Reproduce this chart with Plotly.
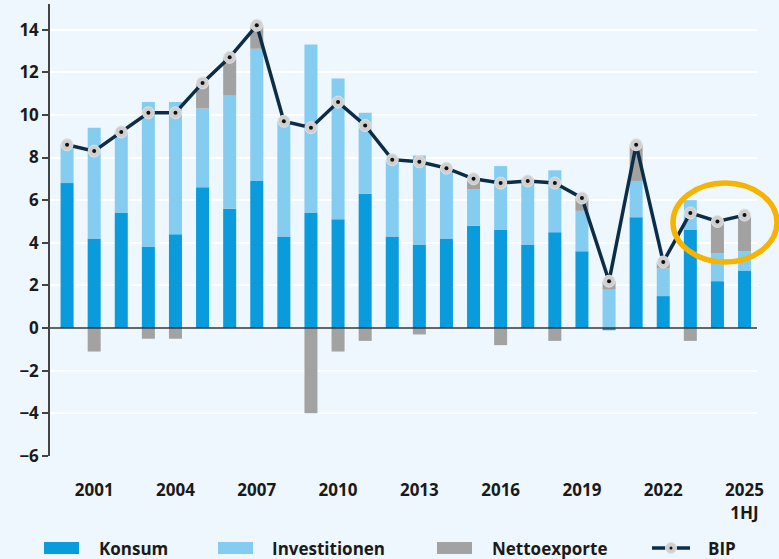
import plotly.graph_objects as go

years = list(range(2000, 2026))
konsum = [6.8, 4.2, 5.4, 3.8, 4.4, 6.6, 5.6, 6.9, 4.3, 5.4, 5.1, 6.3, 4.3, 3.9, 4.2, 4.8, 4.6, 3.9, 4.5, 3.6, -0.1, 5.2, 1.5, 4.6, 2.2, 2.7]
investitionen = [1.8, 5.2, 3.8, 6.8, 6.2, 3.7, 5.3, 6.2, 5.4, 7.9, 6.6, 3.8, 3.6, 4.2, 3.3, 1.7, 3.0, 3.0, 2.9, 1.9, 1.8, 1.7, 1.3, 1.4, 1.3, 0.9]
nettoexporte = [0.0, -1.1, 0.0, -0.5, -0.5, 1.2, 1.8, 1.1, 0.0, -4.0, -1.1, -0.6, 0.0, -0.3, 0.0, 0.5, -0.8, 0.0, -0.6, 0.6, 0.4, 1.7, 0.3, -0.6, 1.5, 1.7]
bip = [8.6, 8.3, 9.2, 10.1, 10.1, 11.5, 12.7, 14.2, 9.7, 9.4, 10.6, 9.5, 7.9, 7.8, 7.5, 7.0, 6.8, 6.9, 6.8, 6.1, 2.2, 8.6, 3.1, 5.4, 5.0, 5.3]
tick_years = [2001, 2004, 2007, 2010, 2013, 2016, 2019, 2022, 2025]
tick_labels = ["2001", "2004", "2007", "2010", "2013", "2016", "2019", "2022", "2025<br>1HJ"]
y_ticks = [-6, -4, -2, 0, 2, 4, 6, 8, 10, 12, 14]

C_KONSUM = "#0a9bdc"
C_INV = "#84cdf1"
C_NET = "#a2a2a2"
C_BIP = "#0c2d48"
C_MARK = "#cfcfcf"
BG = "#eef7fd"
FONT = "Open Sans"
TXT = "#1a1a1a"
FS = 17
WT = "bold"

fig = go.Figure()
bw = 0.48
fig.add_trace(go.Bar(x=years, y=konsum, name="Konsum", marker=dict(color=C_KONSUM, line_width=0), width=bw))
fig.add_trace(go.Bar(x=years, y=investitionen, name="Investitionen", marker=dict(color=C_INV, line_width=0), width=bw))
fig.add_trace(go.Bar(x=years, y=nettoexporte, name="Nettoexporte", marker=dict(color=C_NET, line_width=0), width=bw))
fig.add_trace(go.Scatter(x=years, y=bip, name="BIP", mode="lines+markers",
                         line=dict(color=C_BIP, width=3.5),
                         marker=dict(size=12, color=C_MARK, line=dict(color="#e2e2e2", width=1))))
fig.add_trace(go.Scatter(x=years, y=bip, mode="markers", showlegend=False, hoverinfo="skip",
                         marker=dict(size=4, color="#111111")))

# plot area geometry (pixels) for paper-referenced decorations
W, H = 779, 559
ml, mr, mt, mb = 50, 22, 4, 103
pw, ph = W - ml - mr, H - mt - mb

def px(x):
    return (x - ml) / pw

def py(y):
    return (H - mb - y) / ph

shapes = []
# zero line
shapes.append(dict(type="line", xref="paper", yref="y", x0=0, x1=1, y0=0, y1=0,
                   line=dict(color="#333333", width=1.5), layer="above"))
# highlight ellipse
shapes.append(dict(type="circle", xref="paper", yref="paper",
                   x0=px(673), x1=px(777), y0=py(262), y1=py(183),
                   line=dict(color="#f6b400", width=5.5), layer="above"))

# custom legend
ly = 548
legend_items = [("Konsum", C_KONSUM, 44, 97), ("Investitionen", C_INV, 218, 270), ("Nettoexporte", C_NET, 437, 490)]
annotations = []
for name, col, sx, tx in legend_items:
    shapes.append(dict(type="rect", xref="paper", yref="paper", x0=px(sx), x1=px(sx + 35),
                       y0=py(ly + 6), y1=py(ly - 6), fillcolor=col, line_width=0))
    annotations.append(dict(xref="paper", yref="paper", x=px(tx), y=py(ly), text=name, showarrow=False,
                            xanchor="left", yanchor="middle", font=dict(family=FONT, size=FS, color=TXT, weight=WT)))
shapes.append(dict(type="line", xref="paper", yref="paper", x0=px(652), x1=px(690), y0=py(ly), y1=py(ly),
                   line=dict(color=C_BIP, width=3.5)))
shapes.append(dict(type="circle", xref="paper", yref="paper", x0=px(665.5), x1=px(676.5), y0=py(ly + 5.5), y1=py(ly - 5.5),
                   fillcolor=C_MARK, line=dict(color="#e2e2e2", width=1)))
shapes.append(dict(type="circle", xref="paper", yref="paper", x0=px(669.5), x1=px(672.5), y0=py(ly + 1.5), y1=py(ly - 1.5),
                   fillcolor="#111111", line_width=0))
annotations.append(dict(xref="paper", yref="paper", x=px(706), y=py(ly), text="BIP", showarrow=False,
                        xanchor="left", yanchor="middle", font=dict(family=FONT, size=FS, color=TXT, weight=WT)))

fig.update_layout(
    width=W, height=H,
    margin=dict(l=ml, r=mr, t=mt, b=mb),
    barmode="relative",
    paper_bgcolor=BG, plot_bgcolor=BG,
    showlegend=False,
    shapes=shapes,
    annotations=annotations,
    font=dict(family=FONT, size=FS, color=TXT),
)
x0 = years[0] - 0.63
x1 = years[0] + 25.46
fig.update_xaxes(range=[x0, x1], tickmode="array", tickvals=tick_years, ticktext=tick_labels,
                 showgrid=False, zeroline=False, showline=False,
                 ticks="outside", ticklen=19, tickcolor="rgba(0,0,0,0)",
                 tickfont=dict(family=FONT, size=FS, color=TXT, weight=WT))
fig.update_yaxes(range=[-6, 15.2], tickmode="array", tickvals=y_ticks,
                 showgrid=True, gridcolor="#ffffff", gridwidth=1.5, zeroline=False,
                 showline=True, linecolor="#444444", linewidth=1.5,
                 ticks="outside", ticklen=6, tickcolor="#444444", tickwidth=1.5,
                 tickfont=dict(family=FONT, size=FS, color=TXT, weight=WT))

fig.write_html("out.html", config={"displayModeBar": False},
               post_script="document.body.style.margin='0';document.body.style.background='" + BG + "';")
